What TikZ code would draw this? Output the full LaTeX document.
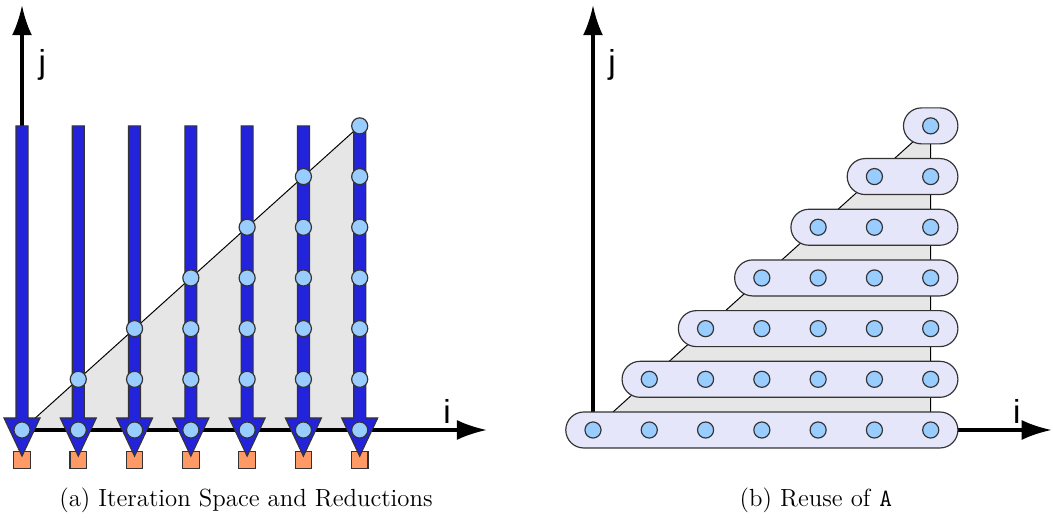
\documentclass[tikz,border=0pt]{standalone}
\usepackage{fontspec}
\newfontfamily\axisfont{Liberation Sans}
\usetikzlibrary{arrows.meta, calc, fit}
\definecolor{barblue}{RGB}{35,35,220}
\definecolor{dotblue}{RGB}{153,204,255}
\definecolor{sqorange}{RGB}{255,153,102}
\definecolor{capfill}{RGB}{230,230,250}
\definecolor{trigrey}{RGB}{230,230,230}

\begin{document}
\begin{tikzpicture}[x=0.018cm, y=0.018cm,
  axis/.style={line width=1.6pt, -{Latex[length=0.54cm, width=0.36cm]}},
  axlabel/.style={font=\axisfont\fontsize{17}{20}\selectfont, inner sep=0pt},
  dot/.style={circle, draw=black!80, fill=dotblue, minimum size=0.29cm, inner sep=0pt, line width=0.6pt},
  redbar/.style={draw=black!80, fill=barblue, line width=0.6pt},
  outsq/.style={rectangle, draw=black!80, fill=sqorange, minimum size=0.3cm, inner sep=0pt, line width=0.6pt},
  capsule/.style={draw=black!80, fill=capfill, line width=0.6pt, rounded corners=0.324cm, inner xsep=0.49cm, inner ysep=0.324cm},
  tri/.style={draw=black, fill=trigrey, line width=0.5pt},
  caption/.style={font=\fontsize{12.7}{15}\selectfont, anchor=base}
]
\useasboundingbox (0,0) rectangle (1053,518);

% (a) iteration space
\begin{scope}[shift={(22,88)}, x=1.0134cm, y=0.9126cm]
  \foreach \i in {0,...,6}
    \foreach \j in {0,...,6}
      \coordinate (a-\i-\j) at (\i,\j);
  \coordinate (a-iend) at (8.26,0);
  \coordinate (a-jend) at (0,8.38);
  \draw[tri] (a-0-0) -- (a-6-0) -- (a-6-6) -- cycle;
  \draw[axis] (a-0-0) -- (a-iend);
  \draw[axis] (a-0-0) -- (a-jend);
  \node[axlabel] (a-ilabel) at (7.55,0.36) {i};
  \node[axlabel] (a-jlabel) at (0.36,7.2) {j};
  % reductions
  \foreach \k in {0,...,6} {
    \node[outsq] (out\k) at ([yshift=-0.54cm]a-\k-0) {};
    \draw[redbar] ([xshift=-0.108cm]a-\k-6) -- ([xshift=0.108cm]a-\k-6)
      -- ([xshift=0.108cm, yshift=0.216cm]a-\k-0) -- ([xshift=0.324cm, yshift=0.216cm]a-\k-0)
      -- ([yshift=-0.47cm]a-\k-0) -- ([xshift=-0.324cm, yshift=0.216cm]a-\k-0)
      -- ([xshift=-0.108cm, yshift=0.216cm]a-\k-0) -- cycle;
  }
  \foreach \i in {0,...,6}
    \foreach \j in {0,...,\i}
      \node[dot] (pa-\i-\j) at (a-\i-\j) {};
\end{scope}

% (b) reuse
\begin{scope}[shift={(593,88)}, x=1.0134cm, y=0.9126cm]
  \foreach \i in {0,...,6}
    \foreach \j in {0,...,6}
      \coordinate (b-\i-\j) at (\i,\j);
  \coordinate (b-iend) at (8.15,0);
  \coordinate (b-jend) at (0,8.38);
  \draw[tri] (b-0-0) -- (b-6-0) -- (b-6-6) -- cycle;
  \draw[axis] (b-0-0) -- (b-iend);
  \draw[axis] (b-0-0) -- (b-jend);
  \node[axlabel] (b-ilabel) at (7.53,0.36) {i};
  \node[axlabel] (b-jlabel) at (0.34,7.2) {j};
  \foreach \j in {0,...,6}
    \node[capsule, fit=(b-\j-\j) (b-6-\j)] (row\j) {};
  \foreach \i in {0,...,6}
    \foreach \j in {0,...,\i}
      \node[dot] (pb-\i-\j) at (b-\i-\j) {};
\end{scope}

% Captions
\node[caption] (capa) at (246,11) {(a) Iteration Space and Reductions};
\node[caption] (capb) at (816,11) {(b) Reuse of \texttt{A}};
\end{tikzpicture}
\end{document}
